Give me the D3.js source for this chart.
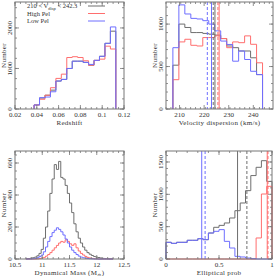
<!DOCTYPE html>
<html>
<head>
<meta charset="utf-8">
<script src="https://cdn.jsdelivr.net/npm/d3@7"></script>
<style>
  body { margin: 0; background: #fff; }
  text { font-family: "Liberation Serif", "DejaVu Serif", serif; fill: #333; }
</style>
</head>
<body>
<svg id="chart" width="275" height="276"></svg>
<script>
// ---- data ----
// redshift histogram, bins of 0.005 starting at 0.0375
const zStart = 0.0375, zWidth = 0.005;
const zAll  = [100, 270, 340, 465, 690, 730, 1000, 1180, 1180, 1150, 1080, 1200, 1300, 1620, 1920];
const zHigh = [100, 240, 340, 525, 755, 860, 1270, 1290, 1270, 1190, 1080, 1200, 1230, 1550, 1480];
const zLow  = [100, 280, 295, 425, 690, 730, 1000, 1180, 1180, 1150, 1100, 1200, 1300, 1620, 2025];

// velocity dispersion histogram
const vStart = 207.3, vWidth = 2.43;
const vAll  = [516, 1000, 960, 900, 900, 890, 881, 870, 829, 742, 722, 683, 683, 603, 405];
const vHigh = [345, 790, 821, 750, 742, 841, 841, 861, 830, 722, 790, 781, 861, 762, 544];
const vLow  = [722, 1226, 1119, 1067, 1060, 1040, 1000, 920, 800, 760, 563, 683, 583, 444, 405];
const vLinesSolid  = {low: 223.0, all: 224.4, high: 226.1};
const vLinesDashed = {low: 221.3, all: 223.7, high: 225.6};

// dynamical mass histogram
const mStart = 10.70, mWidth = 0.04;
const mAll  = [2, 3, 5, 8, 12, 20, 35, 60, 130, 200, 300, 410, 500, 590, 560, 610, 510, 500, 460, 410,
               350, 290, 220, 170, 130, 100, 75, 55, 40, 30, 22, 16, 12, 9, 6, 4, 3, 2, 1, 1];
const mLow  = [0, 0, 0, 2, 4, 8, 15, 25, 45, 75, 110, 140, 165, 180, 195, 185, 170, 150, 125, 100,
               75, 55, 40, 28, 18, 12, 8, 5, 3, 2, 1, 0, 0, 0, 0, 0, 0, 0, 0, 0];
const mHigh = [0, 0, 0, 0, 0, 1, 3, 6, 10, 18, 28, 40, 55, 70, 85, 100, 110, 105, 120, 110,
               95, 85, 95, 70, 50, 35, 25, 16, 10, 6, 4, 2, 1, 0, 0, 0, 0, 0, 0, 0];

// elliptical probability histogram, bins of 0.05
const pStart = 0, pWidth = 0.05;
const pAll  = [258, 242, 258, 258, 289, 289, 314, 299, 402, 490, 520, 557, 634, 747, 866, 1057, 1290, 1418, 1520, 1200];
const pLow  = [258, 242, 258, 258, 289, 289, 314, 299, 402, 428, 454, 273, 170, 41, 31, 15, 5, 0, 0, 0];
const pHigh = [0, 0, 0, 0, 0, 0, 0, 0, 0, 0, 0, 0, 0, 0, 0, 0, 0, 325, 1005, 1124];
const pLinesSolid  = {low: 0.337, all: 0.675, high: 0.955};
const pLinesDashed = {low: 0.369, all: 0.763, high: 0.962};

const colors = {all: '#6e6e6e', high: '#ff6e6e', low: '#6e6eff'};

const svg = d3.select('#chart');

function panel(cfg) {
  const x = d3.scaleLinear().domain(cfg.xDomain).range([cfg.left, cfg.right]);
  const y = d3.scaleLinear().domain(cfg.yDomain).range([cfg.bottom, cfg.top]);
  const g = svg.append('g');

  // histograms
  const series = [['all', cfg.all], ['high', cfg.high], ['low', cfg.low]];
  series.forEach(([key, counts]) => {
    let path = d3.path();
    path.moveTo(x(cfg.start), y(0));
    counts.forEach((c, i) => {
      const x0 = x(cfg.start + i * cfg.width), x1 = x(cfg.start + (i + 1) * cfg.width);
      path.lineTo(x0, y(c));
      path.lineTo(x1, y(c));
    });
    path.lineTo(x(cfg.start + counts.length * cfg.width), y(0));
    g.append('path').attr('d', path.toString())
      .attr('fill', 'none').attr('stroke', colors[key]).attr('stroke-width', 1);
  });

  // vertical mean/median lines
  if (cfg.solid) {
    ['low', 'all', 'high'].forEach(k => {
      g.append('line').attr('x1', x(cfg.solid[k])).attr('x2', x(cfg.solid[k]))
        .attr('y1', cfg.top).attr('y2', cfg.bottom).attr('stroke', colors[k]).attr('stroke-width', 1);
      g.append('line').attr('x1', x(cfg.dashed[k])).attr('x2', x(cfg.dashed[k]))
        .attr('y1', cfg.top).attr('y2', cfg.bottom).attr('stroke', colors[k]).attr('stroke-width', 1)
        .attr('stroke-dasharray', '3,2');
    });
  }

  // frame
  g.append('rect').attr('x', cfg.left).attr('y', cfg.top)
    .attr('width', cfg.right - cfg.left).attr('height', cfg.bottom - cfg.top)
    .attr('fill', 'none').attr('stroke', '#777').attr('stroke-width', 1);

  // ticks on all four sides, pointing in
  const tk = g.append('g').attr('stroke', '#777').attr('stroke-width', 0.8);
  const xMinor = d3.range(cfg.xDomain[0], cfg.xDomain[1] + 1e-9, cfg.xMinor);
  const yMinor = d3.range(cfg.yDomain[0], cfg.yDomain[1] + 1e-9, cfg.yMinor);
  const xMajor = cfg.xTicks, yMajor = cfg.yTicks;
  xMinor.concat(xMajor).forEach((v, i) => {
    const len = i >= xMinor.length ? 4 : 2;
    tk.append('line').attr('x1', x(v)).attr('x2', x(v)).attr('y1', cfg.bottom).attr('y2', cfg.bottom - len);
    tk.append('line').attr('x1', x(v)).attr('x2', x(v)).attr('y1', cfg.top).attr('y2', cfg.top + len);
  });
  yMinor.concat(yMajor).forEach((v, i) => {
    const len = i >= yMinor.length ? 4 : 2;
    tk.append('line').attr('y1', y(v)).attr('y2', y(v)).attr('x1', cfg.left).attr('x2', cfg.left + len);
    tk.append('line').attr('y1', y(v)).attr('y2', y(v)).attr('x1', cfg.right).attr('x2', cfg.right - len);
  });

  // tick labels
  g.selectAll('.xl').data(xMajor).join('text')
    .attr('x', d => x(d)).attr('y', cfg.bottom + 8)
    .attr('text-anchor', 'middle').attr('font-size', 7)
    .text((d, i) => cfg.xLabels[i]);
  g.selectAll('.yl').data(yMajor).join('text')
    .attr('transform', d => `translate(${cfg.left - 3},${y(d)}) rotate(-90)`)
    .attr('text-anchor', 'middle').attr('font-size', 7)
    .text((d, i) => cfg.yLabels[i]);

  // axis titles
  const xt = g.append('text').attr('x', (cfg.left + cfg.right) / 2).attr('y', cfg.bottom + 16)
    .attr('text-anchor', 'middle').attr('font-size', 7).attr('letter-spacing', 0.3);
  cfg.xTitle(xt);
  g.append('text')
    .attr('transform', `translate(${cfg.left - 9},${(cfg.top + cfg.bottom) / 2}) rotate(-90)`)
    .attr('text-anchor', 'middle').attr('font-size', 7).attr('letter-spacing', 0.3)
    .text('Number');
  return {x, y, g};
}

const p1 = panel({
  left: 15, right: 124, top: 2, bottom: 109,
  xDomain: [0.02, 0.12], yDomain: [0, 2640],
  xTicks: [0.02, 0.04, 0.06, 0.08, 0.1, 0.12], xLabels: ['0.02', '0.04', '0.06', '0.08', '0.1', '0.12'],
  yTicks: [0, 1000, 2000], yLabels: ['0', '1000', '2000'],
  xMinor: 0.005, yMinor: 250,
  start: zStart, width: zWidth, all: zAll, high: zHigh, low: zLow,
  xTitle: t => t.text('Redshift')
});

const p2 = panel({
  left: 166, right: 273, top: 2, bottom: 109,
  xDomain: [204.5, 248], yDomain: [0, 1260],
  xTicks: [210, 220, 230, 240], xLabels: ['210', '220', '230', '240'],
  yTicks: [0, 500, 1000], yLabels: ['0', '500', '1000'],
  xMinor: 2, yMinor: 100,
  start: vStart, width: vWidth, all: vAll, high: vHigh, low: vLow,
  solid: vLinesSolid, dashed: vLinesDashed,
  xTitle: t => t.text('Velocity dispersion (km/s)')
});

const p3 = panel({
  left: 15, right: 124, top: 151, bottom: 259,
  xDomain: [10.5, 12.5], yDomain: [0, 675],
  xTicks: [10.5, 11, 11.5, 12, 12.5], xLabels: ['10.5', '11', '11.5', '12', '12.5'],
  yTicks: [0, 200, 400, 600], yLabels: ['0', '200', '400', '600'],
  xMinor: 0.1, yMinor: 50,
  start: mStart, width: mWidth, all: mAll, high: mHigh, low: mLow,
  xTitle: t => {
    t.append('tspan').text('Dynamical Mass (M');
    t.append('tspan').attr('font-size', 5).attr('dy', 1.5).text('\u2299');
    t.append('tspan').attr('dy', -1.5).text(')');
  }
});

const p4 = panel({
  left: 166, right: 272, top: 151, bottom: 259,
  xDomain: [0, 1], yDomain: [0, 1670],
  xTicks: [0, 0.5, 1], xLabels: ['0', '0.5', '1'],
  yTicks: [0, 500, 1000, 1500], yLabels: ['0', '500', '1000', '1500'],
  xMinor: 0.1, yMinor: 100,
  start: pStart, width: pWidth, all: pAll, high: pHigh, low: pLow,
  solid: pLinesSolid, dashed: pLinesDashed,
  xTitle: t => t.text('Elliptical prob')
});

// legend in the first panel
const legend = [
  {key: 'all', y: 8},
  {key: 'high', y: 15.5},
  {key: 'low', y: 23}
];
const lg = p1.g.append('g');
legend.forEach(d => {
  lg.append('line').attr('x1', 88).attr('x2', 105).attr('y1', d.y - 2).attr('y2', d.y - 2)
    .attr('stroke', colors[d.key]).attr('stroke-width', 1);
});
const l0 = lg.append('text').attr('x', 27).attr('y', 8).attr('font-size', 6.5);
l0.append('tspan').text('210 < V');
l0.append('tspan').attr('font-size', 4.5).attr('dy', 1.5).text('disp');
l0.append('tspan').attr('dy', -1.5).text(' < 242.3');
lg.append('text').attr('x', 27).attr('y', 15.5).attr('font-size', 6.5).text('High Pel');
lg.append('text').attr('x', 27).attr('y', 23).attr('font-size', 6.5).text('Low Pel');
</script>
</body>
</html>
